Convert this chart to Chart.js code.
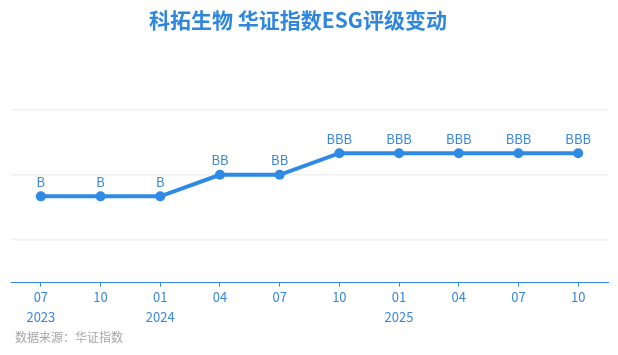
<!DOCTYPE html>
<html><head><meta charset="utf-8">
<script src="https://cdn.jsdelivr.net/npm/chart.js@4/dist/chart.umd.min.js"></script>
<style>html,body{margin:0;padding:0;background:#fff}#wrap{width:618px;height:355px}</style>
</head><body><div id="wrap"><canvas id="c" width="618" height="355"></canvas></div>
<script>
const titleText = '科拓生物 华证指数ESG评级变动';
const sourceText = '数据来源：华证指数';
const months = ['07','10','01','04','07','10','01','04','07','10'];
const years  = ['2023','','2024','','','','2025','','',''];
const ratings = ['B','B','B','BB','BB','BBB','BBB','BBB','BBB','BBB'];
const ratingScale = ['', 'C','CC','CCC','B','BB','BBB','A','AA','AAA'];
const gridTicks = [2,5,8];

const values = ratings.map(r => ratingScale.indexOf(r));
const labels = months.map((m,i) => years[i] ? [m, years[i]] : m);
const FONT = "'Microsoft YaHei','Noto Sans CJK SC',sans-serif";
const BLUE = '#2f8ae6';
const TXT = '#3a87d8';

const extras = {
  id: 'extras',
  afterDatasetsDraw(chart) {
    const ctx = chart.ctx;
    const meta = chart.getDatasetMeta(0);
    ctx.save();
    ctx.fillStyle = TXT;
    ctx.font = '13px ' + FONT;
    ctx.textAlign = 'center';
    ctx.textBaseline = 'bottom';
    meta.data.forEach((p, i) => {
      ctx.fillText(ratings[i], p.x, p.y - 8);
    });
    ctx.restore();
  },
  afterDraw(chart) {
    const ctx = chart.ctx;
    ctx.save();
    ctx.fillStyle = '#2f86de';
    ctx.font = 'bold 21px ' + FONT;
    ctx.textAlign = 'center';
    ctx.textBaseline = 'middle';
    ctx.fillText(titleText, 298, 20);
    ctx.fillStyle = '#a6a6a6';
    ctx.font = '12px ' + FONT;
    ctx.textAlign = 'left';
    ctx.fillText(sourceText, 15, 337);
    ctx.restore();
  }
};

new Chart(document.getElementById('c'), {
  type: 'line',
  data: {
    labels: labels,
    datasets: [{
      data: values,
      borderColor: BLUE,
      backgroundColor: BLUE,
      borderWidth: 4,
      pointRadius: 5,
      pointHoverRadius: 5,
      pointBackgroundColor: BLUE,
      pointBorderWidth: 0,
      tension: 0
    }]
  },
  options: {
    responsive: false,
    animation: false,
    devicePixelRatio: 1,
    layout: { padding: { top: 110, left: 11, right: 10, bottom: 28 } },
    plugins: { legend: { display: false }, tooltip: { enabled: false }, title: { display: false } },
    scales: {
      x: {
        offset: true,
        grid: { display: true, drawOnChartArea: false, drawTicks: true, tickLength: 4, color: BLUE, lineWidth: 1 },
        border: { display: true, color: BLUE, width: 1 },
        ticks: { color: TXT, font: { family: FONT, size: 13, lineHeight: 1.55 }, padding: 0, maxRotation: 0, autoSkip: false }
      },
      y: {
        min: 0, max: 8,
        afterBuildTicks(scale) { scale.ticks = gridTicks.map(v => ({ value: v })); },
        grid: { color: '#f0f0f0', lineWidth: 1.5, drawTicks: false },
        border: { display: false },
        ticks: { display: false }
      }
    }
  },
  plugins: [extras]
});
</script></body></html>
